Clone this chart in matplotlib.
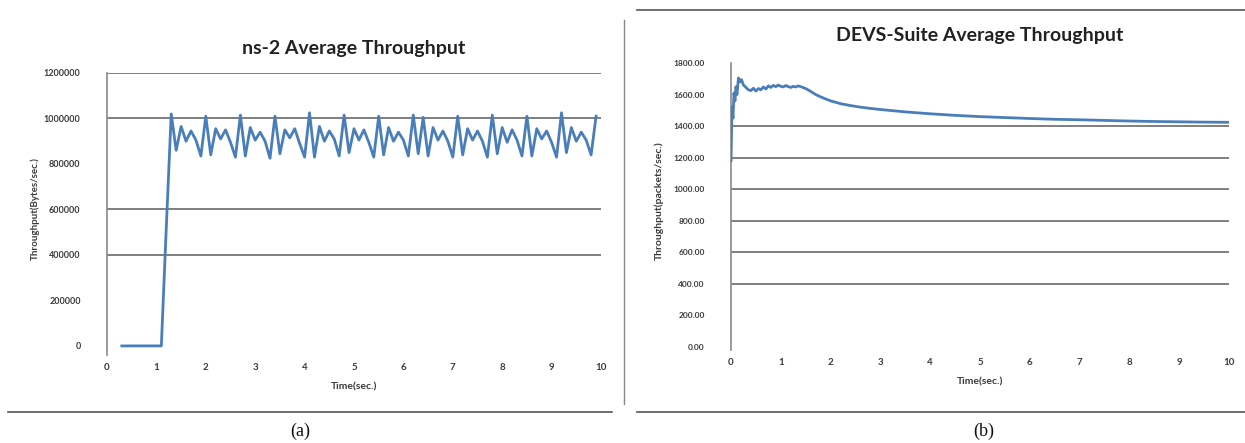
import numpy as np
import matplotlib
matplotlib.use("Agg")
import matplotlib.pyplot as plt
from matplotlib.ticker import FuncFormatter
from matplotlib.lines import Line2D

# ---------------- data ----------------
# ns-2: average throughput (bytes/sec), sampled every 0.1 s after the flow starts
ns2_start_t = [0.3, 0.4, 0.5, 0.6, 0.7, 0.8, 0.9, 1.0, 1.1, 1.2]
ns2_start_v = [0, 0, 0, 0, 0, 0, 0, 0, 0, 520000]
ns2_t = np.round(np.arange(1.3, 9.95, 0.1), 1)
ns2_v = [
    1020000, 860000, 965000, 900000, 945000, 905000, 835000,
    1010000, 840000, 955000, 910000, 950000, 895000, 830000,
    1015000, 835000, 960000, 905000, 940000, 900000, 825000,
    1010000, 845000, 950000, 915000, 955000, 890000, 830000,
    1025000, 830000, 965000, 900000, 945000, 910000, 835000,
    1015000, 850000, 955000, 905000, 950000, 895000, 830000,
    1010000, 840000, 960000, 900000, 940000, 905000, 835000,
    1015000, 845000, 1005000, 835000, 960000, 905000, 945000, 900000, 830000,
    1010000, 840000, 955000, 905000, 945000, 900000, 830000,
    1015000, 845000, 960000, 895000, 950000, 905000, 835000,
    1010000, 835000, 955000, 910000, 945000, 895000, 830000,
    1025000, 850000, 960000, 900000, 940000, 905000, 840000,
    1010000,
]

# DEVS-Suite: average throughput (packets/sec)
devs_t = [0.0, 0.02, 0.04, 0.06, 0.08, 0.10, 0.12, 0.15, 0.18, 0.21, 0.25,
          0.30, 0.35, 0.40, 0.45, 0.50, 0.55, 0.60, 0.65, 0.70, 0.75, 0.80,
          0.85, 0.90, 0.95, 1.00, 1.05, 1.10, 1.15, 1.20, 1.25, 1.30, 1.35,
          1.40, 1.50, 1.60, 1.70, 1.80, 1.90, 2.00, 2.20, 2.40, 2.60, 2.80,
          3.00, 3.50, 4.00, 4.50, 5.00, 5.50, 6.00, 6.50, 7.00, 7.50, 8.00,
          8.50, 9.00, 9.50, 10.00]
devs_v = [1180, 1520, 1450, 1610, 1560, 1650, 1600, 1705, 1680, 1695, 1660,
          1645, 1630, 1625, 1640, 1622, 1638, 1630, 1648, 1635, 1655, 1645,
          1658, 1650, 1660, 1652, 1648, 1657, 1650, 1645, 1652, 1648, 1655,
          1650, 1638, 1620, 1600, 1585, 1572, 1560, 1542, 1530, 1520, 1512,
          1505, 1490, 1478, 1468, 1460, 1454, 1448, 1443, 1440, 1436, 1432,
          1429, 1427, 1425, 1424]

ns2_yticks = [0, 200000, 400000, 600000, 800000, 1000000, 1200000]
ns2_grid = [400000, 600000, 1000000, 1200000]
devs_yticks = [0, 200, 400, 600, 800, 1000, 1200, 1400, 1600, 1800]
devs_grid = [400, 600, 800, 1000, 1200, 1400]
xticks = list(range(0, 11))

# ---------------- style ----------------
W, H = 1245, 443
fig = plt.figure(figsize=(W / 100, H / 100), dpi=100)
fig.patch.set_facecolor("white")

LINE = "#4a7ebb"
GRID = "#6a6a6a"
TXT = "#3a3a3a"
SANS = ["Lato", "DejaVu Sans"]
SERIF = ["Liberation Serif", "DejaVu Serif"]


def px_axes(x0, x1, y_top, y_bot):
    return fig.add_axes([x0 / W, 1 - y_bot / H, (x1 - x0) / W, (y_bot - y_top) / H])


def style(ax, grid_vals, ytick_vals, fmt, ylab, ytick_size, ylab_size):
    for s in ["top", "right", "bottom"]:
        ax.spines[s].set_visible(False)
    ax.spines["left"].set_color("#8a8a8a")
    ax.spines["left"].set_linewidth(1.2)
    for g in grid_vals:
        ax.axhline(g, color=GRID, lw=1.2, zorder=1)
    ax.set_xlim(0, 10)
    ax.set_xticks(xticks)
    ax.set_yticks(ytick_vals)
    ax.yaxis.set_major_formatter(FuncFormatter(fmt))
    ax.tick_params(axis="both", length=0, colors=TXT)
    ax.tick_params(axis="y", pad=19, labelsize=ytick_size)
    ax.tick_params(axis="x", pad=6, labelsize=7)
    for lab in ax.get_xticklabels() + ax.get_yticklabels():
        lab.set_fontfamily(SANS)
        lab.set_fontweight("bold")
    ax.set_xlabel("Time(sec.)", fontsize=7.5, fontweight="bold", family=SANS,
                  color=TXT, labelpad=7)
    ax.set_ylabel(ylab, fontsize=ylab_size, fontweight="bold", family=SANS,
                  color=TXT)


# ---- (a) ns-2 ----
ax1 = px_axes(107, 601, 73, 355)
ax1.set_ylim(-40000, 1200000)
style(ax1, ns2_grid, ns2_yticks, lambda v, p: f"{int(v)}",
      "Throughput(Bytes/sec.)", 6.5, 7)
ax1.yaxis.set_label_coords(-0.135, 0.52)
ax1.plot(list(ns2_start_t) + list(ns2_t), list(ns2_start_v) + list(ns2_v),
         color=LINE, lw=2.0, zorder=3, solid_joinstyle="round")
ax1.set_title("ns-2 Average Throughput", fontsize=14, fontweight="bold",
              family=SANS, color="#222222", pad=14)

# ---- (b) DEVS-Suite ----
ax2 = px_axes(731, 1229, 63, 350)
ax2.set_ylim(-20, 1800)
style(ax2, devs_grid, devs_yticks, lambda v, p: f"{v:.2f}",
      "Throughput(packets/sec.)", 6, 7.5)
ax2.yaxis.set_label_coords(-0.135, 0.52)
ax2.plot(devs_t, devs_v, color=LINE, lw=2.0, zorder=3, solid_joinstyle="round")
ax2.set_title("DEVS-Suite Average Throughput", fontsize=14, fontweight="bold",
              family=SANS, color="#222222", pad=16)

# ---- frames and captions ----
def hline(x0, x1, y, lw=1.2, c="#555555"):
    fig.add_artist(Line2D([x0 / W, x1 / W], [1 - y / H, 1 - y / H],
                          color=c, lw=lw, transform=fig.transFigure))


def vline(x, y0, y1, lw=1.0, c="#888888"):
    fig.add_artist(Line2D([x / W, x / W], [1 - y0 / H, 1 - y1 / H],
                          color=c, lw=lw, transform=fig.transFigure))


hline(8, 612, 412)
hline(637, 1245, 412)
hline(637, 1245, 10)
vline(624, 20, 404)

fig.text(300 / W, 1 - 431 / H, "(a)", ha="center", va="center",
         fontsize=13, family=SERIF, color="#111111")
fig.text(984 / W, 1 - 431 / H, "(b)", ha="center", va="center",
         fontsize=13, family=SERIF, color="#111111")

fig.savefig("out.png", dpi=100, facecolor="white")
